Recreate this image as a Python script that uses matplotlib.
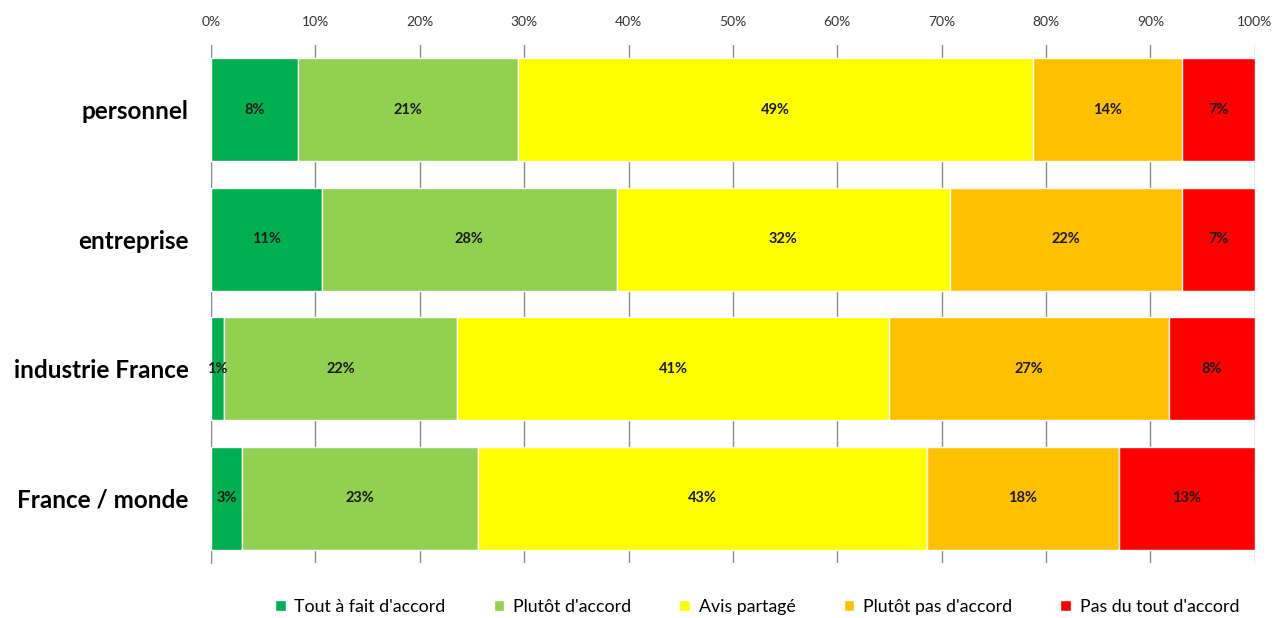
import numpy as np
import matplotlib.pyplot as plt

plt.rcParams['font.family'] = ['Lato', 'DejaVu Sans']

# categories (top to bottom)
categories = ['personnel', 'entreprise', 'industrie France', 'France / monde']
series = ["Tout à fait d'accord", "Plutôt d'accord", 'Avis partagé',
          "Plutôt pas d'accord", "Pas du tout d'accord"]
tout_a_fait = [8.3, 10.6, 1.2, 3.0]
plutot = [21.1, 28.3, 22.4, 22.6]
avis = [49.4, 31.9, 41.4, 43.0]
plutot_pas = [14.2, 22.2, 26.8, 18.4]
pas_du_tout = [7.0, 7.0, 8.2, 13.0]
colors = ['#00B050', '#92D050', '#FFFF00', '#FFC000', '#FF0000']

data = [tout_a_fait, plutot, avis, plutot_pas, pas_du_tout]

fig = plt.figure(figsize=(12.79, 6.18), dpi=100)
ax = fig.add_axes([0.165, 0.089, 0.816, 0.838])

y = np.arange(len(categories))
left = np.zeros(len(categories))
for vals, name, c in zip(data, series, colors):
    vals = np.array(vals)
    ax.barh(y, vals, left=left, height=0.795, color=c, label=name,
            edgecolor='white', linewidth=1, zorder=3)
    for xi, yi, v in zip(left + vals / 2, y, vals):
        ax.text(xi, yi, f'{v:.0f}%', ha='center', va='center',
                fontsize=10.5, fontweight='bold', color='#1a1a1a', zorder=4)
    left = left + vals

ax.set_xlim(0, 100)
ax.set_ylim(len(categories) - 0.5, -0.5)
ax.set_yticks(y)
ax.set_yticklabels(categories, fontsize=17.5, fontweight='bold')
ax.set_xticks(np.arange(0, 101, 10))
ax.set_xticklabels([f'{t}%' for t in range(0, 101, 10)], fontsize=10, color='#333333')
ax.xaxis.tick_top()
ax.tick_params(axis='x', length=0, pad=12)
ax.tick_params(axis='y', length=0, pad=16)
ax.grid(axis='x', color='#8c8c8c', linewidth=1, zorder=0)
for s in ['top', 'right', 'bottom']:
    ax.spines[s].set_visible(False)
ax.spines['left'].set_color('#8c8c8c')

fig.legend(loc='center', bbox_to_anchor=(0.592, 0.018), ncol=5, frameon=False,
           fontsize=12.8, handlelength=0.6, handleheight=0.6, handletextpad=0.5,
           columnspacing=2.7)

fig.savefig('out.png', dpi=100)
